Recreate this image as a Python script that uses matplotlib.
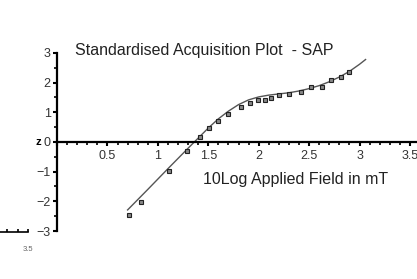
import numpy as np
import matplotlib.pyplot as plt
from matplotlib.ticker import MultipleLocator

plt.rcParams['font.family'] = ['Liberation Sans', 'DejaVu Sans']

# measured points (10log field, z)
field_pts = [0.71, 0.83, 1.11, 1.29, 1.42, 1.51, 1.60, 1.70, 1.82, 1.91, 1.99,
             2.06, 2.12, 2.20, 2.30, 2.42, 2.52, 2.63, 2.72, 2.82, 2.90]
z_pts = [-2.46, -2.01, -0.97, -0.31, 0.16, 0.47, 0.71, 0.93, 1.18, 1.32, 1.41,
         1.43, 1.49, 1.58, 1.63, 1.69, 1.86, 1.86, 2.10, 2.19, 2.36]

# fitted SAP curve
field_fit = [0.70, 0.90, 1.10, 1.30, 1.40, 1.50, 1.60, 1.70, 1.80, 1.90, 2.00,
             2.10, 2.20, 2.30, 2.40, 2.50, 2.60, 2.70, 2.80, 2.90, 3.00, 3.06]
z_fit = [-2.29, -1.60, -0.90, -0.21, 0.13, 0.47, 0.78, 1.04, 1.26, 1.42, 1.52,
         1.58, 1.62, 1.66, 1.72, 1.80, 1.90, 2.03, 2.19, 2.38, 2.62, 2.78]

xticks = [0, 0.5, 1, 1.5, 2, 2.5, 3, 3.5]
xticklabels = ['', '0.5', '1', '1.5', '2', '2.5', '3', '3.5']
yticks = [-3, -2, -1, 0, 1, 2, 3]

fig = plt.figure(figsize=(4.17, 2.79), dpi=100)
ax = fig.add_axes([57/417, 48/279, 360/417, 178/279])

ax.plot(field_fit, z_fit, color='#555555', lw=1.0)
ax.plot(field_pts, z_pts, 's', ms=3.0, mfc='#888888', mec='#222222', mew=0.8)

ax.set_xlim(0, 3.57)
ax.set_ylim(-3, 3)
for s in ['top', 'right']:
    ax.spines[s].set_visible(False)
ax.spines['left'].set_position(('data', 0))
ax.spines['bottom'].set_position(('data', 0))
ax.spines['left'].set_linewidth(1.6)
ax.spines['bottom'].set_linewidth(1.6)

ax.set_xticks(xticks)
ax.set_xticklabels(xticklabels)
ax.set_yticks(yticks)
ax.xaxis.set_minor_locator(MultipleLocator(0.1))
ax.yaxis.set_minor_locator(MultipleLocator(0.5))
ax.tick_params(which='major', direction='out', length=3, width=1.5,
               labelsize=9, labelcolor='#333333', pad=1.5)
ax.tick_params(which='minor', direction='out', length=2, width=1.2)
ax.tick_params(axis='x', pad=3)

ax.set_ylabel('z', rotation=0, fontsize=8, fontweight='bold', va='center')
ax.yaxis.set_label_coords(-0.052, 0.5)
ax.set_xlabel('10Log Applied Field in mT', fontsize=11.5, color='#222222')
ax.xaxis.set_label_coords(0.664, 0.33)
ax.text(0.05, 1.015, 'Standardised Acquisition Plot  - SAP', transform=ax.transAxes,
        fontsize=11.5, color='#222222', va='center', ha='left')

# fragment of a neighbouring plot at the bottom left
ax2 = fig.add_axes([0, 47/279, 28/417, 0.01])
ax2.set_xlim(3.23, 3.5)
ax2.set_ylim(0, 1)
for s in ['top', 'right', 'left']:
    ax2.spines[s].set_visible(False)
ax2.spines['bottom'].set_linewidth(1.2)
ax2.set_yticks([])
ax2.set_xticks([3.3, 3.4, 3.5])
ax2.set_xticklabels(['', '', '3.5'])
ax2.tick_params(direction='in', length=2, width=1.2, labelsize=5.5,
                labelcolor='#666666', pad=10)
ax2.patch.set_alpha(0)

fig.savefig('out.png', dpi=100)
